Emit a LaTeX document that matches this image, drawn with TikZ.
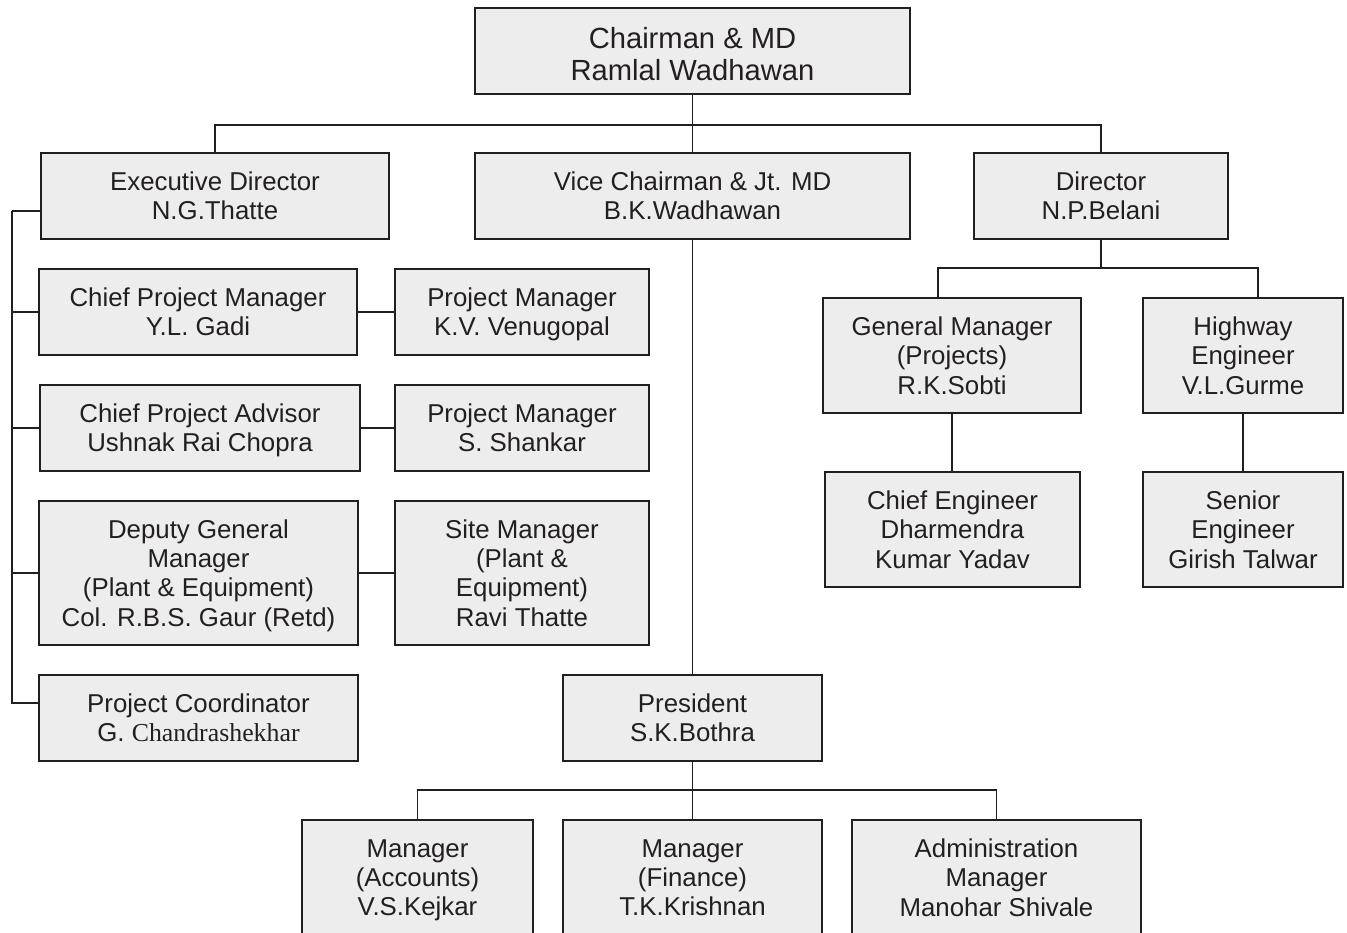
\documentclass[tikz,border=0pt]{standalone}
\usepackage{fontspec}
\setmainfont{Liberation Sans}
\newfontfamily\serifname{Liberation Serif}
\definecolor{boxfill}{HTML}{EDEDED}
\definecolor{ink}{HTML}{231F20}
\begin{document}
\begin{tikzpicture}[x=0.02cm,y=-0.02cm,
  every node/.style={font=\fontsize{14.7}{16.6}\selectfont, text=ink, align=center, inner sep=0pt,
    text depth=0pt},
  box/.style={draw=ink, fill=boxfill, line width=1.1pt, minimum width=#1*0.02cm},
  big/.style={font=\fontsize{16.6}{18.4}\selectfont, text height=34pt},
  h2/.style={minimum height=86*0.02cm},
  h3/.style={minimum height=115*0.02cm},
  h4/.style={minimum height=144*0.02cm},
  link/.style={draw=ink, line width=1.1pt}]
\useasboundingbox (0,0) rectangle (1347,933);
\clip (0,0) rectangle (1347,933);
% top
\node[box=435,h2,big] (chair) at (692.5,51) {Chairman \& MD\\Ramlal Wadhawan};
\node[box=348,h2] (ed) at (215,196) {Executive Director\\N.G.Thatte};
\node[box=435,h2] (vc) at (692.5,196) {Vice Chairman \& Jt. MD\\B.K.Wadhawan};
\node[box=254,h2] (dir) at (1101,196) {Director\\N.P.Belani};
% left column
\node[box=318,h2] (cpm) at (198,312) {Chief Project Manager\\Y.L. Gadi};
\node[box=254,h2] (pm1) at (522,312) {Project Manager\\K.V. Venugopal};
\node[box=320,h2] (cpa) at (200,428) {Chief Project Advisor\\Ushnak Rai Chopra};
\node[box=254,h2] (pm2) at (522,428) {Project Manager\\S. Shankar};
\node[box=319,h4] (dgm) at (198.5,573) {Deputy General\\Manager\\(Plant \& Equipment)\\Col. R.B.S. Gaur (Retd)};
\node[box=254,h4] (sm) at (522,573) {Site Manager\\(Plant \&\\Equipment)\\Ravi Thatte};
\node[box=319,h2] (pc) at (198.5,718) {Project Coordinator\\G. {\serifname Chandrashekhar}};
% right
\node[box=258,h3] (gm) at (952,355.5) {General Manager\\(Projects)\\R.K.Sobti};
\node[box=200,h3] (hw) at (1243,355.5) {Highway\\Engineer\\V.L.Gurme};
\node[box=255,h3] (ce) at (952.5,529.5) {Chief Engineer\\Dharmendra\\Kumar Yadav};
\node[box=200,h3] (se) at (1243,529.5) {Senior\\Engineer\\Girish Talwar};
% president
\node[box=259,h2] (pres) at (692.5,718) {President\\S.K.Bothra};
\node[box=231,h3] (ma) at (417.5,877.5) {Manager\\(Accounts)\\V.S.Kejkar};
\node[box=259,h3] (mf) at (692.5,877.5) {Manager\\(Finance)\\T.K.Krishnan};
\node[box=289,h3] (am) at (996.5,877.5) {Administration\\Manager\\Manohar Shivale};
% connectors
\coordinate (b1) at (692.5,125);
\path[link] (chair.south) -- (vc.north);
\path[link] (ed.north) |- (b1) -| (dir.north);
\path[link] (vc.south) -- (pres.north);
% left bus
\coordinate (lt) at (12,211);
\path[link] (lt) -- (lt -| ed.west);
\path[link] (lt) |- ([yshift=0.3cm]pc.west);
\path[link] (cpm.west -| lt) -- (cpm.west);
\path[link] (cpa.west -| lt) -- (cpa.west);
\path[link] (dgm.west -| lt) -- (dgm.west);
\path[link] (cpm.east) -- (pm1.west);
\path[link] (cpa.east) -- (pm2.west);
\path[link] (dgm.east) -- (sm.west);
% director branch
\coordinate (dl) at (938,268);
\coordinate (dr) at (1258,268);
\path[link] (dir.south) -- (dir.south |- dl);
\path[link] (dl |- gm.north) -- (dl) -- (dr) -- (dr |- hw.north);
\path[link] (gm.south) -- (gm.south |- ce.north);
\path[link] (hw.south) -- (se.north);
% president branch
\coordinate (pb) at (692.5,790);
\path[link] (pres.south) -- (mf.north);
\path[link] (ma.north) |- (pb) -| (am.north);
\end{tikzpicture}
\end{document}
